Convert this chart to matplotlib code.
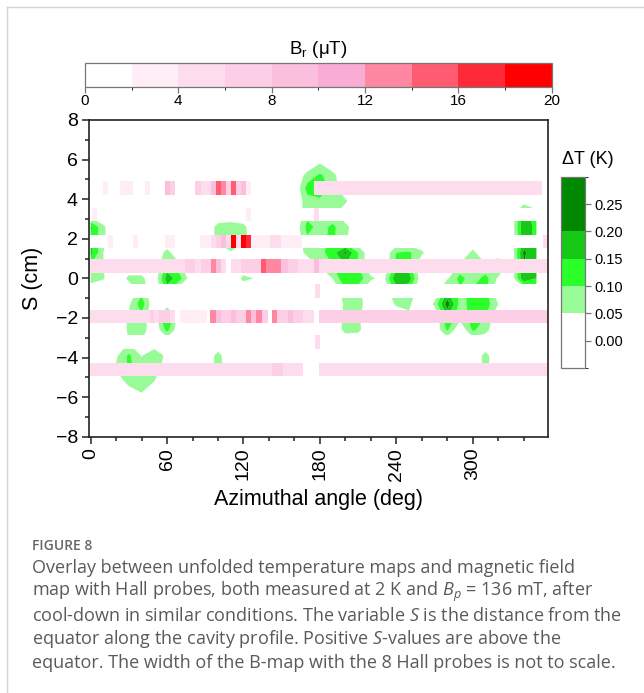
import numpy as np
import matplotlib
matplotlib.use('Agg')
import matplotlib.pyplot as plt
from matplotlib.colors import ListedColormap, BoundaryNorm
from matplotlib.cm import ScalarMappable
from matplotlib.lines import Line2D
from matplotlib.ticker import MultipleLocator

plt.rcParams['font.family'] = ['Liberation Sans', 'DejaVu Sans']
plt.rcParams['mathtext.fontset'] = 'custom'
plt.rcParams['mathtext.it'] = 'Open Sans:italic'
plt.rcParams['mathtext.rm'] = 'Open Sans'

# ---------------- data ----------------
# Hall-probe positions along the cavity profile (cm)
probe_s = [4.57, 3.23, 1.87, 0.62, -0.65, -1.92, -3.22, -4.60]

# B-map of each probe: (start angle, end angle, B_r in uT)
bmap_p1 = [(-2, 9.7, 1), (9.7, 13.6, 3), (13.6, 22.8, 1), (22.8, 33.2, 3), (33.2, 42.4, 1),
           (42.4, 46.3, 3), (46.3, 58, 1), (58, 62, 9), (62, 66.5, 7), (66.5, 81.6, 1),
           (81.6, 86.9, 7), (86.9, 94.7, 5), (94.7, 98.7, 9), (98.7, 102.6, 15),
           (102.6, 106.5, 13), (106.5, 110.5, 7), (110.5, 114.4, 15), (114.4, 118.3, 7),
           (118.3, 122.2, 9), (122.2, 126.2, 3), (175, 354.5, 5)]
bmap_p2 = [(-2, 1, 1), (1, 4.9, 3), (4.9, 122, 1), (122, 126, 3), (126, 175.5, 1),
           (175.5, 179, 5), (179, 359, 1)]
bmap_p3 = [(-2, 13.6, 1), (13.6, 17.5, 3), (17.5, 33, 1), (33, 37, 3), (37, 58, 1), (58, 66, 3),
           (66, 85.5, 1), (85.5, 94.7, 3), (94.7, 98.7, 5), (98.7, 102.6, 7), (102.6, 106.5, 9),
           (106.5, 110.5, 5), (110.5, 114.4, 19), (114.4, 118.3, 5), (118.3, 122.2, 19),
           (122.2, 126.2, 17), (126.2, 141, 3), (141, 149.7, 5), (149.7, 166, 3), (166, 355, 1),
           (355, 359, 5)]
bmap_p4 = [(-2, 74, 5), (74, 81.6, 7), (81.6, 86.9, 5), (86.9, 94.7, 7), (94.7, 98.7, 13),
           (98.7, 102.6, 9), (102.6, 106.5, 5), (106.5, 110.5, 1), (110.5, 118.3, 5),
           (118.3, 134, 7), (134, 138, 15), (138, 149.7, 13), (149.7, 155, 9), (155, 163, 7),
           (163, 175, 5), (175, 179.6, 9), (179.6, 359, 5)]
bmap_p5 = [(-2, 176, 1), (176, 180, 5), (180, 359, 1)]
bmap_p6 = [(-2, 46.3, 5), (46.3, 50, 7), (50, 54, 5), (54, 62, 7), (62, 66, 5), (66, 70, 1),
           (70, 91, 3), (91, 94, 1), (94, 98.7, 13), (98.7, 102.6, 9), (102.6, 110.5, 7),
           (110.5, 114.4, 9), (114.4, 122.2, 7), (122.2, 126.2, 13), (126.2, 130, 9),
           (130, 134.5, 13), (134.5, 139, 7), (139, 142.3, 1), (142.3, 146.6, 13),
           (146.6, 155, 7), (155, 159, 9), (159, 166.7, 7), (166.7, 175, 5), (175, 179.5, 1),
           (179.5, 359, 7)]
bmap_p7 = [(-2, 176, 1), (176, 180, 5), (180, 359, 1)]
bmap_p8 = [(-2, 142, 5), (142, 151, 7), (151, 167, 5), (167, 179.5, 1), (179.5, 359, 5)]
bmaps = [bmap_p1, bmap_p2, bmap_p3, bmap_p4, bmap_p5, bmap_p6, bmap_p7, bmap_p8]

# Temperature map: thermometer angles (deg) and positions S (cm)
t_angles = np.arange(0, 351, 10)
t_s = np.round(np.arange(-6.5, 6.51, 0.65), 2)
# non-zero Delta T (K) per S row: {angle: dT}
dT_s585 = {180: 0.045}
dT_s520 = {170: 0.07, 180: 0.11, 190: 0.07}
dT_s455 = {170: 0.12, 180: 0.13, 190: 0.08}
dT_s390 = {170: 0.08, 180: 0.09, 190: 0.08, 200: 0.06}
dT_s325 = {170: 0.08, 180: 0.08, 190: 0.07, 340: 0.20, 350: 0.08}
dT_s260 = {0: 0.16, 10: 0.06, 100: 0.07, 110: 0.08, 120: 0.065, 170: 0.12, 180: 0.08,
           190: 0.11, 200: 0.07, 340: 0.20, 350: 0.13}
dT_s195 = {0: 0.15, 10: 0.06, 100: 0.07, 110: 0.09, 120: 0.07, 170: 0.09, 180: 0.09,
           190: 0.11, 200: 0.06, 340: 0.18, 350: 0.13}
dT_s130 = {0: 0.17, 10: 0.05, 60: 0.07, 110: 0.045, 170: 0.07, 180: 0.08, 190: 0.13,
           200: 0.21, 210: 0.10, 240: 0.10, 250: 0.11, 260: 0.06, 300: 0.065,
           340: 0.21, 350: 0.16}
dT_s065 = {0: 0.10, 10: 0.05, 60: 0.12, 70: 0.06, 180: 0.06, 190: 0.10, 200: 0.15,
           210: 0.10, 240: 0.12, 250: 0.12, 290: 0.06, 300: 0.10, 310: 0.06, 320: 0.12,
           340: 0.20, 350: 0.16}
dT_s000 = {0: 0.08, 10: 0.055, 30: 0.065, 40: 0.065, 60: 0.18, 70: 0.12, 120: 0.065,
           130: 0.045, 190: 0.05, 200: 0.15, 210: 0.13, 220: 0.06, 230: 0.03, 240: 0.20,
           250: 0.18, 280: 0.04, 290: 0.12, 300: 0.07, 310: 0.12, 320: 0.04, 340: 0.20,
           350: 0.15}
dT_sm065 = {40: 0.09, 60: 0.12, 200: 0.09, 210: 0.07, 240: 0.12, 250: 0.10, 280: 0.15,
            290: 0.09, 300: 0.11, 310: 0.12, 350: 0.10}
dT_sm130 = {30: 0.04, 40: 0.13, 110: 0.052, 200: 0.06, 210: 0.08, 240: 0.06, 250: 0.06,
            270: 0.06, 280: 0.23, 290: 0.08, 300: 0.12, 310: 0.13, 320: 0.05}
dT_sm195 = {30: 0.06, 40: 0.09, 60: 0.20, 200: 0.07, 210: 0.06, 250: 0.04, 280: 0.15,
            290: 0.07, 300: 0.12, 310: 0.10}
dT_sm260 = {30: 0.06, 40: 0.08, 60: 0.12, 200: 0.07, 210: 0.065, 280: 0.11, 300: 0.11,
            310: 0.07}
dT_sm325 = {30: 0.05, 40: 0.05}
dT_sm390 = {20: 0.04, 30: 0.11, 40: 0.045, 50: 0.10, 60: 0.03, 100: 0.07, 310: 0.07}
dT_sm455 = {20: 0.06, 30: 0.11, 40: 0.08, 50: 0.10, 100: 0.08, 310: 0.07}
dT_sm520 = {30: 0.08, 40: 0.09, 50: 0.05}
dT_sm585 = {40: 0.045}
dT_rows = [(5.85, dT_s585), (5.2, dT_s520), (4.55, dT_s455), (3.9, dT_s390),
           (3.25, dT_s325), (2.6, dT_s260), (1.95, dT_s195), (1.3, dT_s130),
           (0.65, dT_s065), (0.0, dT_s000), (-0.65, dT_sm065), (-1.3, dT_sm130),
           (-1.95, dT_sm195), (-2.6, dT_sm260), (-3.25, dT_sm325), (-3.9, dT_sm390),
           (-4.55, dT_sm455), (-5.2, dT_sm520), (-5.85, dT_sm585)]

b_levels = [0, 2, 4, 6, 8, 10, 12, 14, 16, 18, 20]
b_ticks = [0, 4, 8, 12, 16, 20]
dt_levels = [-0.05, 0.05, 0.10, 0.15, 0.20, 0.30]
dt_ticks = [0.00, 0.05, 0.10, 0.15, 0.20, 0.25]

# ---------------- style ----------------
b_colors = ['#FFFFFF', '#FFEEF6', '#FCDCED', '#FCCFE6', '#FBBEDD', '#F9ADD6',
            '#FF87A1', '#FF5C71', '#FF2A38', '#FF0000']
dt_colors = ['#FFFFFF', '#98FB98', '#2AFF2A', '#17C817', '#008800']
b_cmap = ListedColormap(b_colors)
b_norm = BoundaryNorm(b_levels, b_cmap.N)
dt_cmap = ListedColormap(dt_colors)
dt_norm = BoundaryNorm(dt_levels, dt_cmap.N)

W, H = 644, 693
fig = plt.figure(figsize=(W / 100, H / 100), dpi=100)

ax = fig.add_axes([89 / W, 1 - 436.7 / H, 458.5 / W, 316.7 / H])

# temperature map
grid = np.zeros((len(t_s), len(t_angles)))
for s, row in dT_rows:
    i = int(np.argmin(np.abs(t_s - s)))
    for a, v in row.items():
        j = int(np.argmin(np.abs(t_angles - a)))
        grid[i, j] = v
ax.contourf(t_angles, t_s, grid, levels=dt_levels[1:], colors=dt_colors[1:], zorder=1,
            antialiased=True)

# Hall-probe B-map strips
band_h = 0.68
for s, runs in zip(probe_s, bmaps):
    for a0, a1, b in runs:
        ax.barh(s, a1 - a0, left=a0, height=band_h, color=b_cmap(b_norm(b)),
                linewidth=0, antialiased=False, zorder=2)

ax.set_xlim(-1.3, 358.7)
ax.set_ylim(-8, 8)
ax.xaxis.set_major_locator(MultipleLocator(60))
ax.xaxis.set_minor_locator(MultipleLocator(20))
ax.yaxis.set_major_locator(MultipleLocator(2))
ax.yaxis.set_minor_locator(MultipleLocator(1))
ax.tick_params(which='both', direction='out', top=False, right=False, labelsize=14,
               color='#222222', width=1.1)
ax.tick_params(which='major', length=5)
ax.tick_params(which='minor', length=3)
ax.tick_params(axis='x', labelrotation=90, pad=3)
ax.tick_params(axis='y', pad=3)
for sp in ax.spines.values():
    sp.set_linewidth(1.2)
    sp.set_color('#222222')
ax.set_xlabel('Azimuthal angle (deg)', fontsize=15.5)
ax.xaxis.set_label_coords(0.5, -0.165)
ax.set_ylabel('S (cm)', fontsize=15.5)
ax.yaxis.set_label_coords(-0.1, 0.5)

# top colour bar (B_r)
cax1 = fig.add_axes([85 / W, 1 - 87.3 / H, 466.7 / W, 24 / H])
cb1 = fig.colorbar(ScalarMappable(norm=b_norm, cmap=b_cmap), cax=cax1,
                   orientation='horizontal', ticks=b_ticks)
cb1.outline.set_edgecolor('#777777')
cb1.outline.set_linewidth(0.9)
cax1.tick_params(labelsize=11, length=4, width=0.9, color='#777777', pad=1)
fig.text(318 / W, 1 - 50 / H, 'B$_\\mathregular{r}$ (\u03bcT)', ha='center', va='center',
         fontsize=13.5)

# right colour bar (Delta T)
cax2 = fig.add_axes([560.7 / W, 1 - 368 / H, 24.3 / W, 191.3 / H])
cb2 = fig.colorbar(ScalarMappable(norm=dt_norm, cmap=dt_cmap), cax=cax2,
                   spacing='proportional', ticks=dt_ticks, format='%.2f')
cb2.outline.set_edgecolor('#777777')
cb2.outline.set_linewidth(0.9)
cax2.tick_params(labelsize=10.5, length=4, width=0.9, color='#777777', pad=3)
fig.text(588 / W, 1 - 160 / H, '\u0394T (K)', ha='center', va='center', fontsize=13)

# page frame lines
fig.add_artist(Line2D([7 / W, 7 / W], [0, 1 - 7 / H], color='#d4d4d4', lw=1,
                      transform=fig.transFigure))
fig.add_artist(Line2D([7 / W, 1], [1 - 7 / H, 1 - 7 / H], color='#d4d4d4', lw=1,
                      transform=fig.transFigure))

# caption
cap_col = '#5a5a5a'
fig.text(32 / W, 1 - 546 / H, 'FIGURE 8', family='Open Sans', fontsize=10,
         fontweight='semibold', color='#666666', va='center', ha='left')
cap_lines = [
    'Overlay between unfolded temperature maps and magnetic field',
    'map with Hall probes, both measured at 2 K and $B_p$ = 136 mT, after',
    'cool-down in similar conditions. The variable $S$ is the distance from the',
    'equator along the cavity profile. Positive $S$-values are above the',
    'equator. The width of the B-map with the 8 Hall probes is not to scale.',
]
for k, line in enumerate(cap_lines):
    fig.text(32 / W, 1 - (568 + 23.8 * k) / H, line, family='Open Sans', fontsize=13,
             color=cap_col, va='center', ha='left')

fig.savefig('out.png', dpi=100)
